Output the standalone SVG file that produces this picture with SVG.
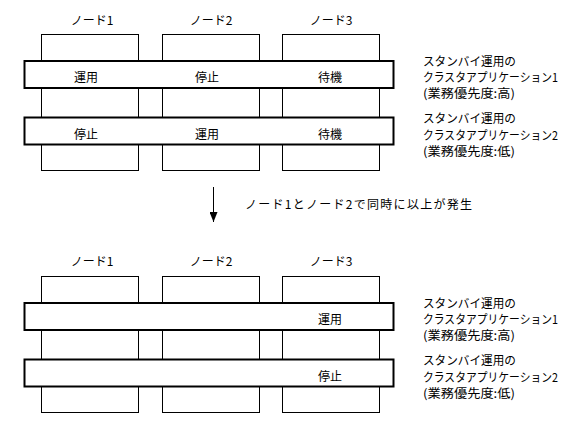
<svg xmlns="http://www.w3.org/2000/svg" width="583" height="432" viewBox="0 0 583 432">
<style>
text{font-family:"Noto Sans CJK JP","Liberation Sans",sans-serif;font-size:12px;fill:#000}
.node{fill:#fff;stroke:#000;stroke-width:1}
.band{fill:#fff;stroke:#000;stroke-width:2}
.c{text-anchor:middle;dominant-baseline:central}
.l{dominant-baseline:central}
</style>
<rect width="583" height="432" fill="#fff"/>
<defs>
<marker id="ah" markerWidth="10" markerHeight="8" refX="10" refY="4" orient="auto" markerUnits="userSpaceOnUse" viewBox="0 0 10 8">
<path d="M0,0 L10,4 L0,8 Z" fill="#000"/>
</marker>
</defs>
<g id="top">
<g id="node1-top"><text class="c" x="92" y="19">ノード1</text><rect class="node" x="41.5" y="34.5" width="97" height="136"/></g>
<g id="node2-top"><text class="c" x="211" y="19">ノード2</text><rect class="node" x="162.5" y="34.5" width="97" height="136"/></g>
<g id="node3-top"><text class="c" x="331" y="19">ノード3</text><rect class="node" x="282.5" y="34.5" width="97" height="136"/></g>
<g id="app1-top"><rect class="band" x="24.5" y="61" width="369" height="27"/>
<text class="c" x="86" y="76">運用</text><text class="c" x="207" y="76">停止</text><text class="c" x="330" y="76">待機</text></g>
<g id="app2-top"><rect class="band" x="24.5" y="117.5" width="369" height="27"/>
<text class="c" x="86" y="133">停止</text><text class="c" x="207" y="133">運用</text><text class="c" x="330" y="133">待機</text></g>
<g id="label1-top"><text class="l" x="423" y="60" textLength="93" lengthAdjust="spacingAndGlyphs">スタンバイ運用の</text>
<text class="l" x="423" y="76" textLength="135" lengthAdjust="spacingAndGlyphs">クラスタアプリケーション1</text>
<text class="l" x="423" y="92" textLength="92" lengthAdjust="spacingAndGlyphs">(業務優先度:高)</text></g>
<g id="label2-top"><text class="l" x="423" y="117" textLength="93" lengthAdjust="spacingAndGlyphs">スタンバイ運用の</text>
<text class="l" x="423" y="134" textLength="135" lengthAdjust="spacingAndGlyphs">クラスタアプリケーション2</text>
<text class="l" x="423" y="150" textLength="92" lengthAdjust="spacingAndGlyphs">(業務優先度:低)</text></g>
</g>
<g id="connectors">
<line x1="213.5" y1="187" x2="213.5" y2="222" stroke="#000" stroke-width="1" marker-end="url(#ah)"/>
</g>
<text class="l" x="245" y="203" textLength="227" lengthAdjust="spacing">ノード1とノード2で同時に以上が発生</text>
<g id="bottom">
<g id="node1-bottom"><text class="c" x="92" y="260">ノード1</text><rect class="node" x="41.5" y="276.5" width="97" height="136"/></g>
<g id="node2-bottom"><text class="c" x="211" y="260">ノード2</text><rect class="node" x="162.5" y="276.5" width="97" height="136"/></g>
<g id="node3-bottom"><text class="c" x="331" y="260">ノード3</text><rect class="node" x="282.5" y="276.5" width="97" height="136"/></g>
<g id="app1-bottom"><rect class="band" x="24.5" y="303" width="369" height="27"/>
<text class="c" x="330" y="318">運用</text></g>
<g id="app2-bottom"><rect class="band" x="24.5" y="359.5" width="369" height="27"/>
<text class="c" x="330" y="375">停止</text></g>
<g id="label1-bottom"><text class="l" x="423" y="302" textLength="93" lengthAdjust="spacingAndGlyphs">スタンバイ運用の</text>
<text class="l" x="423" y="318" textLength="135" lengthAdjust="spacingAndGlyphs">クラスタアプリケーション1</text>
<text class="l" x="423" y="334" textLength="92" lengthAdjust="spacingAndGlyphs">(業務優先度:高)</text></g>
<g id="label2-bottom"><text class="l" x="423" y="359" textLength="93" lengthAdjust="spacingAndGlyphs">スタンバイ運用の</text>
<text class="l" x="423" y="376" textLength="135" lengthAdjust="spacingAndGlyphs">クラスタアプリケーション2</text>
<text class="l" x="423" y="392" textLength="92" lengthAdjust="spacingAndGlyphs">(業務優先度:低)</text></g>
</g>
</svg>
